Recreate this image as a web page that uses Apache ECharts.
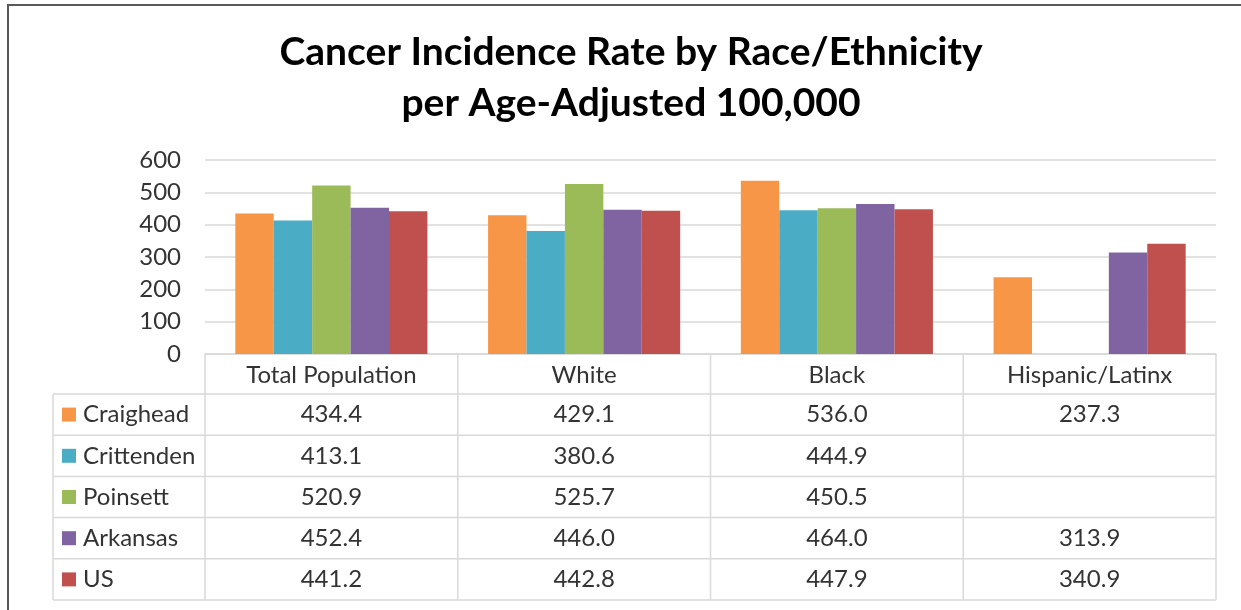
<!DOCTYPE html>
<html>
<head>
<meta charset="utf-8">
<script src="https://cdn.jsdelivr.net/npm/echarts@6/dist/echarts.min.js"></script>
<style>
  html, body { margin: 0; padding: 0; background: #fff; }
  #chart { width: 1241px; height: 610px; }
</style>
</head>
<body>
<div id="chart"></div>
<script>
// data
const categories = ['Total Population', 'White', 'Black', 'Hispanic/Latinx'];
const seriesNames = ['Craighead', 'Crittenden', 'Poinsett', 'Arkansas', 'US'];
const craighead = [434.4, 429.1, 536.0, 237.3];
const crittenden = [413.1, 380.6, 444.9, null];
const poinsett = [520.9, 525.7, 450.5, null];
const arkansas = [452.4, 446.0, 464.0, 313.9];
const us = [441.2, 442.8, 447.9, 340.9];
const yTicks = [0, 100, 200, 300, 400, 500, 600];

const seriesValues = [craighead, crittenden, poinsett, arkansas, us];
const colors = ['#F79646', '#4BACC6', '#9BBB59', '#8064A2', '#C0504D'];

const FONT = 'Lato, "Noto Sans", sans-serif';
const TEXT = '#333333';
const LINE = '#d9d9d9';
const FS = 24;

// layout
const W = 1241, H = 610;
const gridLeft = 205, gridRight = 1216, gridTop = 160, gridBottom = 354;
const headerH = 40;
const rowH = 41.2;
const tableLeft = 53;

const chart = echarts.init(document.getElementById('chart'), null, { renderer: 'canvas' });

function tableGraphics() {
  const els = [];
  const n = categories.length;
  const catW = (gridRight - gridLeft) / n;
  const bodyTop = gridBottom + headerH;
  const bodyBottom = bodyTop + rowH * seriesNames.length;
  const line = (x1, y1, x2, y2) => ({
    type: 'line', silent: true,
    shape: { x1, y1, x2, y2 },
    style: { stroke: LINE, lineWidth: 1.5 }
  });
  // horizontal rules
  for (let i = 0; i <= seriesNames.length; i++) {
    const y = bodyTop + i * rowH;
    els.push(line(tableLeft, y, gridRight, y));
  }
  // verticals
  els.push(line(tableLeft, bodyTop, tableLeft, bodyBottom));
  for (let c = 0; c <= n; c++) {
    const x = gridLeft + c * catW;
    els.push(line(x, gridBottom, x, bodyBottom));
  }
  // rows
  seriesNames.forEach((name, r) => {
    const cy = bodyTop + r * rowH + rowH / 2;
    els.push({
      type: 'rect', silent: true,
      shape: { x: 62, y: cy - 7, width: 14, height: 14 },
      style: { fill: colors[r] }
    });
    els.push({
      type: 'text', silent: true,
      x: 83, y: cy,
      style: { text: name, font: FS + 'px ' + FONT, fill: TEXT, textVerticalAlign: 'middle', textAlign: 'left' }
    });
    seriesValues[r].forEach((v, c) => {
      if (v == null) return;
      els.push({
        type: 'text', silent: true,
        x: gridLeft + c * catW + catW / 2, y: cy,
        style: { text: v.toFixed(1), font: FS + 'px ' + FONT, fill: TEXT, textAlign: 'center', textVerticalAlign: 'middle' }
      });
    });
  });
  // outer frame (top and left visible)
  els.push({
    type: 'rect', silent: true,
    shape: { x: 8, y: 5, width: W + 20, height: H + 20 },
    style: { fill: null, stroke: '#595959', lineWidth: 2 }
  });
  return els;
}

chart.setOption({
  animation: false,
  color: colors,
  title: {
    text: 'Cancer Incidence Rate by Race/Ethnicity\nper Age-Adjusted 100,000',
    left: 626,
    top: 22,
    textAlign: 'center',
    textStyle: { fontFamily: FONT, fontSize: 39, fontWeight: 'bold', color: '#000', lineHeight: 51 }
  },
  grid: { left: gridLeft, right: W - gridRight, top: gridTop, bottom: H - gridBottom, containLabel: false },
  xAxis: {
    type: 'category',
    data: categories,
    axisLine: { lineStyle: { color: LINE, width: 1.5 } },
    axisTick: { show: false },
    axisLabel: { fontFamily: FONT, fontSize: FS, color: TEXT, margin: 9, interval: 0 }
  },
  yAxis: {
    type: 'value',
    min: yTicks[0],
    max: yTicks[yTicks.length - 1],
    interval: 100,
    axisLine: { show: false },
    axisTick: { show: false },
    splitLine: { lineStyle: { color: LINE, width: 1.5 } },
    axisLabel: { fontFamily: FONT, fontSize: FS, color: TEXT, margin: 24 }
  },
  series: seriesNames.map((name, i) => ({
    name,
    type: 'bar',
    data: seriesValues[i],
    barGap: '0%',
    barCategoryGap: '24%'
  })),
  graphic: tableGraphics()
});
</script>
</body>
</html>
